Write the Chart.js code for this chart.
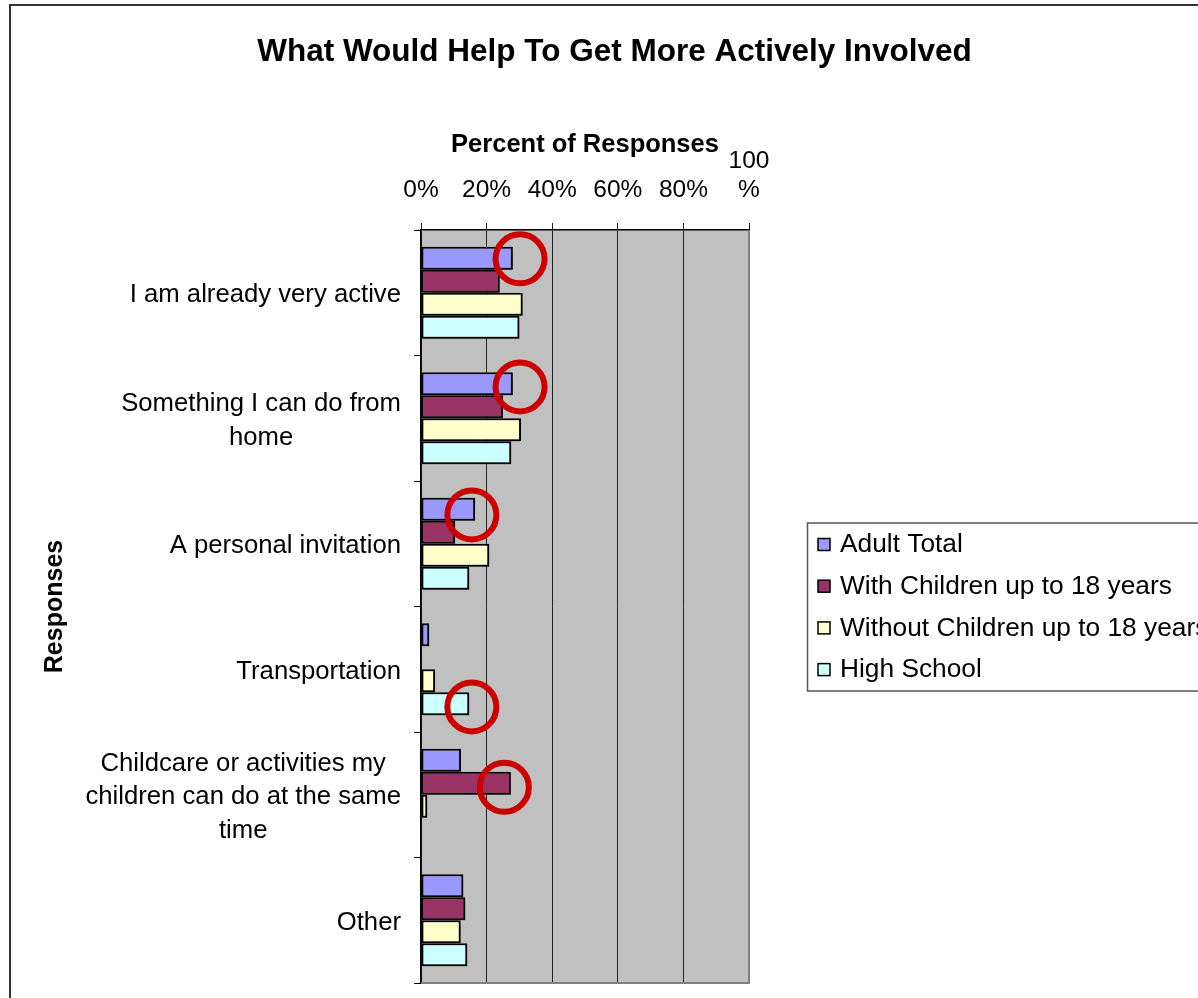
<!DOCTYPE html>
<html><head><meta charset="utf-8">
<script src="https://cdn.jsdelivr.net/npm/chart.js@4/dist/chart.umd.min.js"></script>
<style>html,body{margin:0;padding:0;background:#fff;overflow:hidden}#wrap{width:1198px;height:998px;position:relative}</style>
</head><body><div id="wrap"><canvas id="c" width="1198" height="998"></canvas></div>
<script>
// ---- data ----
const chartTitle = "What Would Help To Get More Actively Involved";
const categories = [
  ["I am already very active"],
  ["Something I can do from", "home"],
  ["A personal invitation"],
  ["Transportation"],
  ["Childcare or activities my", "children can do at the same", "time"],
  ["Other"]
];
const seriesNames = ["Adult Total", "With Children up to 18 years", "Without Children up to 18 years", "High School"];
const adultTotal      = [28, 28, 16.5, 2.5, 12.2, 12.9];
const withChildren    = [24, 25, 10.4, 0, 27.4, 13.5];
const withoutChildren = [31, 30.5, 20.8, 4.3, 1.9, 12.1];
const highSchool      = [30, 27.5, 14.7, 14.7, 0, 14.1];
const xTickValues = [0, 20, 40, 60, 80, 100];
// highlight circles (x in %, y in category index units)
const highlightX = [30.2, 30.2, 15.5, 15.5, 25.4];
const highlightY = [-0.27, 0.75, 1.77, 3.30, 3.94];

const FONT = "'Liberation Sans', Arial, sans-serif";
const colors = ["#9999FF", "#993366", "#FFFFCC", "#CCFFFF"];
const seriesData = [adultTotal, withChildren, withoutChildren, highSchool];

const decor = {
  id: 'decor',
  beforeDraw(chart) {
    const ctx = chart.ctx, a = chart.chartArea;
    ctx.save();
    ctx.fillStyle = '#fff';
    ctx.fillRect(0, 0, chart.width, chart.height);
    // outer frame
    ctx.strokeStyle = '#333';
    ctx.lineWidth = 2;
    ctx.beginPath();
    ctx.moveTo(10, chart.height + 5);
    ctx.lineTo(10, 5);
    ctx.lineTo(chart.width + 5, 5);
    ctx.stroke();
    // plot background
    ctx.fillStyle = '#C0C0C0';
    ctx.fillRect(a.left, a.top, a.right - a.left, a.bottom - a.top);
    // chart title
    ctx.fillStyle = '#000';
    ctx.font = "bold 31.5px " + FONT;
    ctx.textAlign = 'center';
    ctx.textBaseline = 'middle';
    ctx.fillText(chartTitle, 614.5, 52);
    ctx.restore();
  },
  beforeDatasetsDraw(chart) {
    const ctx = chart.ctx, a = chart.chartArea;
    ctx.save();
    ctx.strokeStyle = '#808080';
    ctx.lineWidth = 2;
    ctx.beginPath();
    ctx.moveTo(a.left, a.bottom);
    ctx.lineTo(a.right, a.bottom);
    ctx.lineTo(a.right, a.top);
    ctx.stroke();
    ctx.restore();
  },
  beforeDatasetDraw(chart) {
    const ctx = chart.ctx;
    ctx.save();
    ctx.shadowColor = 'rgba(0,0,0,0.35)';
    ctx.shadowOffsetX = 2;
    ctx.shadowOffsetY = 2;
    ctx.shadowBlur = 1;
  },
  afterDatasetDraw(chart) {
    chart.ctx.restore();
  },
  afterDatasetsDraw(chart) {
    const ctx = chart.ctx, xs = chart.scales.x, ys = chart.scales.y;
    ctx.save();
    ctx.strokeStyle = '#CC0000';
    ctx.lineWidth = 6;
    for (let i = 0; i < highlightX.length; i++) {
      const cx = xs.getPixelForValue(highlightX[i]);
      const cy = ys.getPixelForValue(highlightY[i]);
      ctx.beginPath();
      ctx.arc(cx, cy, 24.5, 0, Math.PI * 2);
      ctx.stroke();
    }
    ctx.restore();
  },
  afterDraw(chart) {
    const ctx = chart.ctx, ys = chart.scales.y, a = chart.chartArea;
    ctx.save();
    // category labels: block right-aligned, lines centered
    ctx.fillStyle = '#000';
    ctx.font = "25.7px " + FONT;
    ctx.textAlign = 'center';
    ctx.textBaseline = 'middle';
    const lh = 33.5, right = a.left - 20;
    categories.forEach((lines, i) => {
      const yc = ys.getPixelForValue(i);
      const w = Math.max(...lines.map(l => ctx.measureText(l).width));
      const cx = right - w / 2;
      lines.forEach((l, j) => {
        ctx.fillText(l, cx, yc + (j - (lines.length - 1) / 2) * lh + 2.5);
      });
    });
    // y axis title
    ctx.save();
    ctx.translate(55, (a.top + a.bottom) / 2);
    ctx.rotate(-Math.PI / 2);
    ctx.font = "bold 25px " + FONT;
    ctx.fillText('Responses', 0, 0);
    ctx.restore();
    // legend
    const lx = 807, ly = 523;
    ctx.strokeStyle = '#555';
    ctx.lineWidth = 1.5;
    ctx.strokeRect(lx + 0.5, ly, 600, 168);
    ctx.font = "26.3px " + FONT;
    ctx.textAlign = 'left';
    chart.data.datasets.forEach((ds, i) => {
      const yy = 545 + i * 41.7;
      ctx.fillStyle = ds.backgroundColor;
      ctx.fillRect(818, yy - 6.5, 12, 12);
      ctx.strokeStyle = '#000';
      ctx.lineWidth = 1.5;
      ctx.strokeRect(818, yy - 6.5, 12, 12);
      ctx.fillStyle = '#000';
      ctx.fillText(ds.label, 840, yy);
    });
    ctx.restore();
  }
};

new Chart(document.getElementById('c'), {
  type: 'bar',
  data: {
    labels: categories,
    datasets: seriesNames.map((name, i) => ({
      label: name,
      data: seriesData[i],
      backgroundColor: colors[i],
      borderColor: '#000',
      borderWidth: 2,
      borderSkipped: false,
      categoryPercentage: 0.735,
      barPercentage: 1.0
    }))
  },
  options: {
    indexAxis: 'y',
    responsive: false,
    animation: false,
    events: [],
    layout: { padding: { left: 0, top: 80.2, right: 449, bottom: 15 } },
    plugins: {
      legend: { display: false },
      tooltip: { enabled: false },
      title: { display: false }
    },
    scales: {
      x: {
        position: 'top',
        min: 0, max: 100,
        afterBuildTicks(s) { s.ticks = xTickValues.map(v => ({ value: v })); },
        ticks: {
          autoSkip: false, maxRotation: 0, minRotation: 0, padding: 18,
          color: '#000',
          font: { family: FONT, size: 24.5 },
          callback: v => v === 100 ? ['100', '%'] : v + '%'
        },
        grid: { color: '#222', lineWidth: 1, tickLength: 7, drawTicks: true },
        border: { display: true, color: '#000', width: 1.5 },
        title: {
          display: true, text: 'Percent of Responses', color: '#000',
          font: { family: FONT, size: 25.5, weight: 'bold' },
          padding: { top: 49.5, bottom: 0 }
        },
        afterFit(s) { s.height = 149.8; }
      },
      y: {
        ticks: { display: false },
        grid: { display: true, drawOnChartArea: false, drawTicks: true, tickLength: 7, color: '#000', offset: true },
        border: { display: true, color: '#000', width: 1.5 },
        afterFit(s) { s.width = 421; }
      }
    }
  },
  plugins: [decor]
});
</script>
</body></html>
